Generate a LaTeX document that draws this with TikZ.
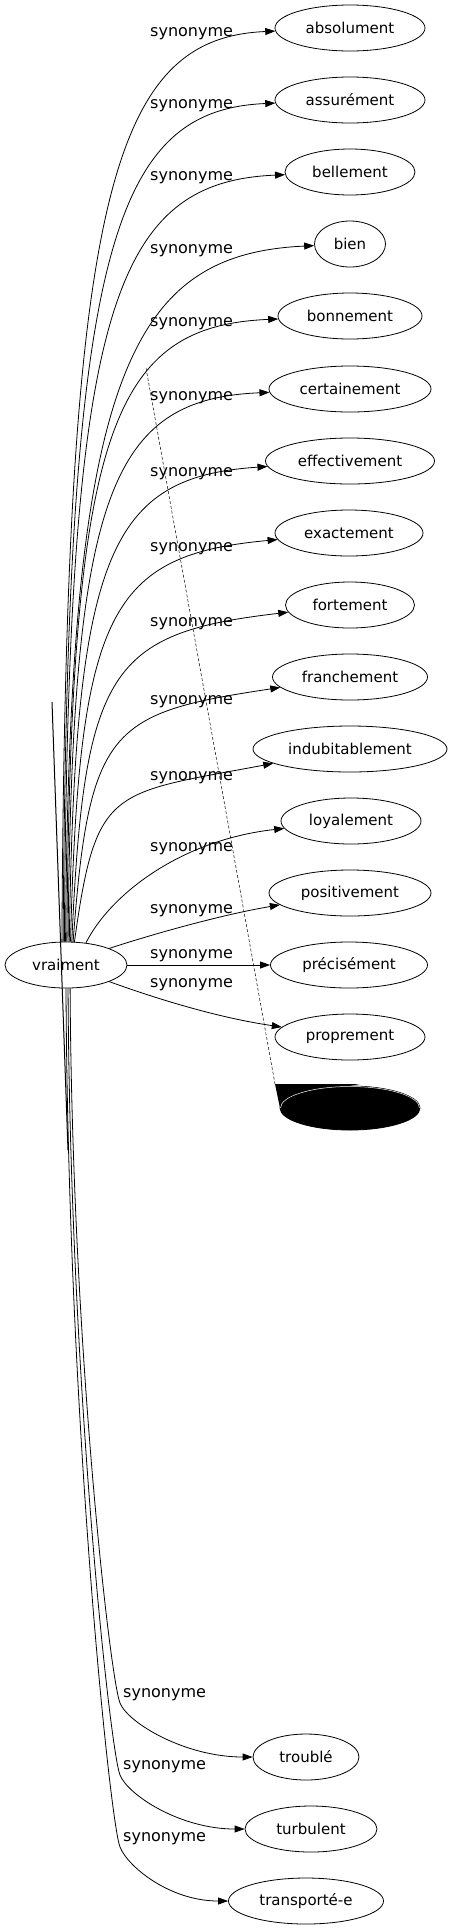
\documentclass[tikz,border=0pt]{standalone}
\usepackage{fontspec}
\setmainfont{DejaVu Sans}
\usetikzlibrary{arrows.meta,shapes.geometric}

\begin{document}
\begin{tikzpicture}[x=1pt,y=-1pt,
  word/.style={ellipse,draw,line width=0.8pt,inner sep=0pt,minimum height=46pt,font=\fontsize{15}{17}\selectfont},
  syn/.style={-{Triangle[length=10pt,width=7pt]},line width=0.8pt},
  lbl/.style={anchor=base west,inner sep=0pt,font=\fontsize{16}{18}\selectfont}]
\useasboundingbox (0,0) rectangle (453,1931);

\node[word,minimum width=122pt] at (66,965) (vr) {vraiment};
\node[word,minimum width=150pt] at (350,28) (absolument) {absolument};
\node[word,minimum width=150pt] at (350,100) (assurement) {assurément};
\node[word,minimum width=130pt] at (350,172) (bellement) {bellement};
\node[word,minimum width=71pt] at (350,244) (bien) {bien};
\node[word,minimum width=144pt] at (350,316) (bonnement) {bonnement};
\node[word,minimum width=162pt] at (350,389) (certainement) {certainement};
\node[word,minimum width=169pt] at (350,461) (effectivement) {effectivement};
\node[word,minimum width=148pt] at (349,533) (exactement) {exactement};
\node[word,minimum width=129pt] at (350,605) (fortement) {fortement};
\node[word,minimum width=155pt] at (350,677) (franchement) {franchement};
\node[word,minimum width=194pt] at (350,749) (indubitablement) {indubitablement};
\node[word,minimum width=140pt] at (351,821) (loyalement) {loyalement};
\node[word,minimum width=162pt] at (350,893) (positivement) {positivement};
\node[word,minimum width=157pt] at (349,965) (precisement) {précisément};
\node[word,minimum width=150pt] at (350,1037) (proprement) {proprement};
\node[word,fill=black,minimum width=140pt,minimum height=44pt] at (350,1108) (blot) {};
\node[word,minimum width=106pt] at (306,1757) (trouble) {troublé};
\node[word,minimum width=132pt] at (311,1829) (turbulent) {turbulent};
\node[word,minimum width=155pt] at (306,1901) (transporte) {transporté‑e};

% black blot and stray lines
\fill (275,1084) -- (360,1084) -- (300,1095) -- (280,1108) -- cycle;
\draw[white,line width=0.5pt] (280.5,1108) arc[start angle=180,end angle=0,x radius=69.5pt,y radius=21.5pt];
\coordinate (d1) at (146,368);
\coordinate (d2) at (275,1084);
\draw[line width=0.5pt,dash pattern=on 3pt off 2pt] (d1) -- (d2);
\coordinate (t1) at (52,702);
\coordinate (t2) at (68,1150);
\draw[line width=1pt] (t1) -- (t2);

% edges going up
\draw[syn] (vr.100) .. controls (66,200) and (110,38) .. (absolument);
\draw[syn] (vr.97) .. controls (67,258) and (110,110) .. (assurement);
\draw[syn] (vr.94) .. controls (68,317) and (110,182) .. (bellement);
\draw[syn] (vr.91) .. controls (69,375) and (130,254) .. (bien);
\draw[syn] (vr.88) .. controls (71,434) and (110,326) .. (bonnement);
\draw[syn] (vr.85) .. controls (72,494) and (110,399) .. (certainement);
\draw[syn] (vr.82) .. controls (75,552) and (110,477) .. (effectivement);
\draw[syn] (vr.79) .. controls (79,611) and (110,555) .. (exactement);
\draw[syn] (vr.76) .. controls (84,669) and (110,633) .. (fortement);
\draw[syn] (vr.73) .. controls (89,727) and (110,713) .. (franchement);
\draw[syn] (vr.70) .. controls (96,786) and (110,794) .. (indubitablement);
\draw[syn] (vr.48) .. controls (110,895) and (180,840) .. (loyalement);
\draw[syn] (vr.21) .. controls (150,935) and (220,915) .. (positivement);
\draw[syn] (vr) -- (precisement);
\draw[syn] (vr.-21) .. controls (160,1000) and (220,1018) .. (proprement);

% edges going down
\draw[syn] (vr.-80) .. controls (72,1345) and (110,1678) .. (120,1703) .. controls (128,1723) and (185,1757) .. (trouble);
\draw[syn] (vr.-85) .. controls (70,1381) and (110,1750) .. (120,1775) .. controls (128,1795) and (180,1829) .. (turbulent);
\draw[syn] (vr.-90) .. controls (68,1417) and (110,1822) .. (120,1847) .. controls (128,1867) and (170,1901) .. (transporte);

% labels
\node[lbl] at (150,36) (s1) {synonyme};
\node[lbl] at (150,108) (s2) {synonyme};
\node[lbl] at (150,180) (s3) {synonyme};
\node[lbl] at (150,253) (s4) {synonyme};
\node[lbl] at (150,326) (s5) {synonyme};
\node[lbl] at (150,400) (s6) {synonyme};
\node[lbl] at (150,476) (s7) {synonyme};
\node[lbl] at (150,551) (s8) {synonyme};
\node[lbl] at (150,626) (s9) {synonyme};
\node[lbl] at (150,704) (s10) {synonyme};
\node[lbl] at (150,780) (s11) {synonyme};
\node[lbl] at (150,851) (s12) {synonyme};
\node[lbl] at (150,913) (s13) {synonyme};
\node[lbl] at (150,958) (s14) {synonyme};
\node[lbl] at (150,987) (s15) {synonyme};
\node[lbl] at (123,1697) (s16) {synonyme};
\node[lbl] at (123,1769) (s17) {synonyme};
\node[lbl] at (123,1841) (s18) {synonyme};
\end{tikzpicture}
\end{document}
